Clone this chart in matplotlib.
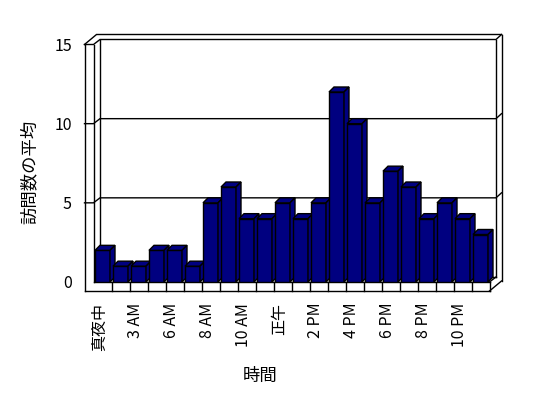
import numpy as np
import matplotlib
matplotlib.use('Agg')
import matplotlib.pyplot as plt
from matplotlib.patches import Polygon
from matplotlib.lines import Line2D
from matplotlib.transforms import IdentityTransform

plt.rcParams['font.family'] = ['Noto Sans CJK JP', 'DejaVu Sans']

# ---- data ----
hours = ['真夜中', '1 AM', '3 AM', '5 AM', '6 AM', '7 AM', '8 AM', '9 AM', '10 AM', '11 AM',
         '正午', '1 PM', '2 PM', '3 PM', '4 PM', '5 PM', '6 PM', '7 PM', '8 PM', '9 PM',
         '10 PM', '11 PM']
visits = [2, 1, 1, 2, 2, 1, 5, 6, 4, 4, 5, 4, 5, 12, 10, 5, 7, 6, 4, 5, 4, 3]
yticks = [0, 5, 10, 15]
ylabel = '訪問数の平均'
xlabel = '時間'

W, H = 548, 398
fig = plt.figure(figsize=(W / 100, H / 100), dpi=100)
ax = fig.add_axes([93.5 / W, (H - 282) / H, 396 / W, 237.5 / H])
n = len(hours)
ymax = yticks[-1]
ax.set_xlim(0, n)
ax.set_ylim(0, ymax)
ax.set_autoscale_on(False)
ax.patch.set_visible(False)
for s in ax.spines.values():
    s.set_visible(False)

NAVY = '#000080'
LW = 1.0
D1 = (6.5, 5.0)     # floor / back wall front surface depth
D2 = (12.0, 10.0)   # back wall back surface depth
T = 9.0             # wall / floor thickness in px
B = (5.0, 5.0)      # bar depth


def P(x, y, dx=0.0, dy=0.0):
    p = ax.transData.transform((x, y))
    return (p[0] + dx, p[1] + dy)


def line(*pts, z=1):
    xs = [p[0] for p in pts]
    ys = [p[1] for p in pts]
    ax.add_artist(Line2D(xs, ys, transform=IdentityTransform(), color='black',
                         lw=LW, zorder=z, clip_on=False, solid_joinstyle='miter'))


# ---- frame (walls and floor) ----
line(P(0, ymax, -T, 0), P(0, 0, -T, -T))
line(P(0, ymax), P(0, 0))
line(P(0, 0), P(n, 0))
line(P(0, 0, -T, -T), P(n, 0, 0, -T))
line(P(n, 0), P(n, 0, 0, -T))
line(P(n, 0, 0, -T), P(n, 0, D2[0], -T + D2[1]))
line(P(n, 0), P(n, 0, *D1))
for k in range(1, n):
    line(P(k, 0), P(k, 0, 0, -T))
line(P(0, 0, *D1), P(0, ymax, *D1))
line(P(n, 0, *D1), P(n, ymax, *D1))
line(P(n, 0, D2[0], -T + D2[1]), P(n, ymax, *D2))
line(P(0, ymax, -T, 0), P(0, ymax, -T + D2[0], D2[1]), P(n, ymax, *D2))
line(P(0, 0, *D1), P(n, 0, *D1))
for v in yticks[1:]:
    line(P(0, v, -T, 0), P(0, v), P(0, v, *D1), P(n, v, *D1), P(n, v, *D2))

# ---- bars ----
bars = ax.bar(np.arange(n) + 0.5, visits, width=15 / 18, color=NAVY,
              edgecolor='black', linewidth=LW)
for i, r in enumerate(bars):
    z = 3 + i * 0.01
    r.set_zorder(z)
    x0, x1, h = r.get_x(), r.get_x() + r.get_width(), r.get_height()
    top = [P(x0, h), P(x1, h), P(x1, h, *B), P(x0, h, *B)]
    side = [P(x1, 0), P(x1, h), P(x1, h, *B), P(x1, 0, *B)]
    for poly in (top, side):
        ax.add_patch(Polygon(poly, closed=True, transform=IdentityTransform(),
                             facecolor=NAVY, edgecolor='black', lw=LW,
                             zorder=z + 0.001, clip_on=False))

# ---- ticks ----
ax.set_yticks(yticks)
ax.set_yticklabels([str(t) for t in yticks])
ax.tick_params(axis='y', length=0, pad=15.5, labelsize=11.5)
ax.set_xticks(np.arange(0, n, 2) + 0.5 - 3 / 18)
ax.set_xticklabels(hours[::2], rotation=90, va='top', ha='center')
ax.tick_params(axis='x', length=0, pad=15, labelsize=11.5)

fig.text(30 / W, 1 - 172 / H, ylabel, rotation=90, ha='center', va='center', fontsize=12.5)
fig.text(260 / W, 1 - 376 / H, xlabel, ha='center', va='center', fontsize=12.5)

fig.savefig('out.png', dpi=100)
